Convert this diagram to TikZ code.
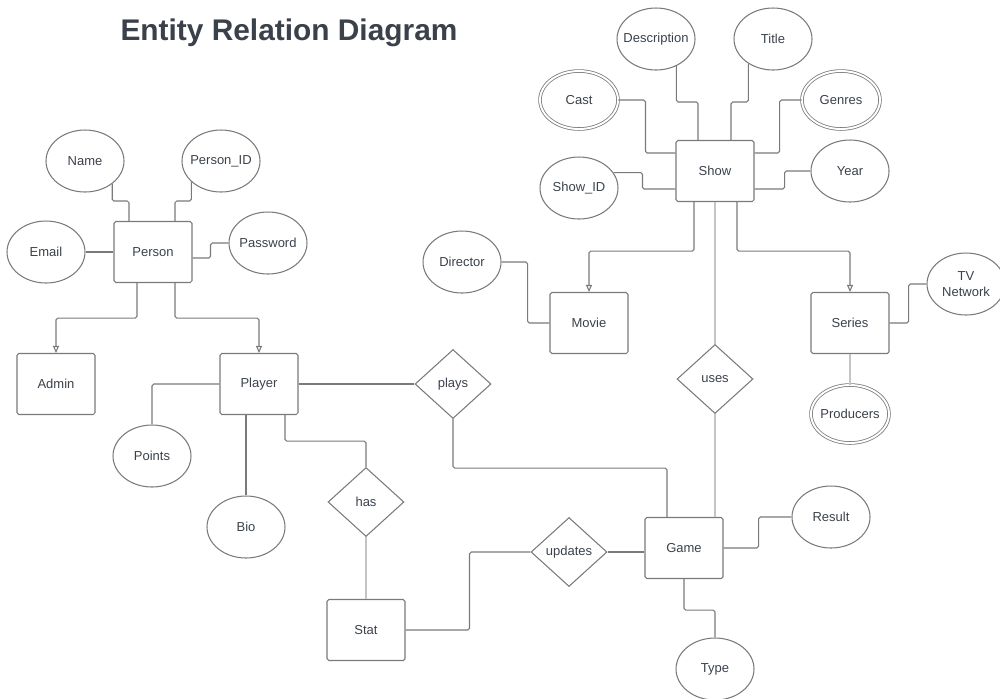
\documentclass[tikz,border=0pt]{standalone}
\usepackage{fontspec}
\setmainfont{Liberation Sans}
\usepackage{tikz}
\usetikzlibrary{shapes.geometric, arrows.meta, calc}

\definecolor{inkgray}{HTML}{3A414A}
\definecolor{linegray}{HTML}{7A7A7A}
\definecolor{fadegray}{HTML}{C4C4C4}

\begin{document}
\begin{tikzpicture}
	[
	x=0.02cm, y=-0.02cm,
	every node/.style={font=\fontsize{7.4}{9}\selectfont, text=inkgray},
	entity/.style={draw=linegray, line width=0.6pt, rectangle, rounded corners=1pt,
		minimum width=1.56cm, minimum height=1.22cm},
	attr/.style={draw=linegray, line width=0.6pt, ellipse, minimum width=1.56cm,
		minimum height=1.24cm, inner sep=-3pt},
	multi/.style={attr, line width=0.45pt, double=white, double distance=1.1pt,
		minimum height=1.16cm},
	rel/.style={draw=linegray, line width=0.6pt, diamond, minimum width=1.52cm,
		minimum height=1.38cm, inner sep=0pt},
	link/.style={draw=linegray, line width=0.6pt, rounded corners=1pt},
	weak/.style={draw=fadegray, line width=0.6pt},
	isa/.style={link, -{Triangle[open, length=4pt, width=3.4pt]}}
	]
	\useasboundingbox (0,0) rectangle (1000,698);
	\node[font=\fontsize{17}{20}\selectfont\bfseries] (heading) at (289,33) {Entity Relation Diagram};
	% entities
	\node[entity] (person) at (153,252) {Person};
	\node[entity] (admin) at (56,384) {Admin};
	\node[entity] (player) at (259,384) {Player};
	\node[entity] (stat) at (366,630) {Stat};
	\node[entity] (game) at (684,548) {Game};
	\node[entity] (show) at (715,171) {Show};
	\node[entity] (movie) at (589,323) {Movie};
	\node[entity] (series) at (850,323) {Series};
	% attributes
	\node[attr] (name) at (85,161) {Name};
	\node[attr] (personid) at (221,161) {Person\_ID};
	\node[attr] (email) at (46,252) {Email};
	\node[attr] (password) at (268,243) {Password};
	\node[attr] (points) at (152,456) {Points};
	\node[attr] (bio) at (246,527) {Bio};
	\node[attr] (desc) at (656,39) {Description};
	\node[attr] (title) at (773,39) {Title};
	\node[multi] (cast) at (579,100) {Cast};
	\node[multi] (genres) at (841,100) {Genres};
	\node[attr] (showid) at (579,188) {Show\_ID};
	\node[attr] (year) at (850,171) {Year};
	\node[attr] (director) at (462,262) {Director};
	\node[attr, align=center] (network) at (966,284) {TV\\Network};
	\node[multi] (producers) at (850,414) {Producers};
	\node[attr] (result) at (831,517) {Result};
	\node[attr] (type) at (715,669) {Type};
	% relationships
	\node[rel] (plays) at (453,384) {plays};
	\node[rel] (has) at (366,502) {has};
	\node[rel] (updates) at (569,552) {updates};
	\node[rel] (uses) at (715,379) {uses};

	% person
	\draw[link] (name.-40) |- ($(person.north)+(-24,-20)$) -- ($(person.north)+(-24,0)$);
	\draw[link] (personid.-145) |- ($(person.north)+(22,-20)$) -- ($(person.north)+(22,0)$);
	\draw[link] (email.east) -- (person.west);
	\draw[link] (password.west) -| ($(person.east)+(18,6)$) -- ($(person.east)+(0,6)$);
	\draw[isa] ($(person.south)+(-16,0)$) -- ++(0,35) -| (admin.north);
	\draw[isa] ($(person.south)+(22,0)$) -- ++(0,35) -| (player.north);
	% player
	\draw[link] (player.west) -| (points.north);
	\draw[link] (bio.north) -- (bio.north |- player.south);
	\draw[link] ($(player.south)+(26,0)$) -- ++(0,26) -| (has.north);
	\draw[weak] (has.south) -- (stat.north);
	\draw[link] (player.east) -- (plays.west);
	\draw[link] (plays.south) -- ++(0,49) -| ($(game.north)+(-17,0)$);
	% game
	\draw[link] (stat.east) -- ++(64,0) |- (updates.west);
	\draw[link] (updates.east) -- (updates.east -| game.west);
	\draw[link] (game.east) -- ++(35,0) |- (result.west);
	\draw[link] (game.south) -- ++(0,31) -| (type.north);
	\draw[weak] (uses.south) -- (uses.south |- game.north);
	\draw[weak] (uses.north) -- (show.south);
	% show
	\draw[isa] ($(show.south)+(-21,0)$) -- ++(0,49) -| (movie.north);
	\draw[isa] ($(show.south)+(22,0)$) -- ++(0,49) -| (series.north);
	\draw[link] (director.east) -- ++(26,0) |- (movie.west);
	\draw[link] (series.east) -- ++(19,0) |- (network.west);
	\draw[weak] (series.south) -- (producers.north);
	\draw[link] (desc.-53) |- ($(show.north)+(-17,-38)$) -- ($(show.north)+(-17,0)$);
	\draw[link] (title.-135) |- ($(show.north)+(16,-38)$) -- ($(show.north)+(16,0)$);
	\draw[link] (cast.east) -| ($(show.west)+(-30,-18)$) -- ($(show.west)+(0,-18)$);
	\draw[link] (genres.west) -| ($(show.east)+(25,-18)$) -- ($(show.east)+(0,-18)$);
	\draw[link] (showid.24) -| ($(show.west)+(-33,18)$) -- ($(show.west)+(0,18)$);
	\draw[link] (year.west) -| ($(show.east)+(30,18)$) -- ($(show.east)+(0,18)$);
\end{tikzpicture}
\end{document}
